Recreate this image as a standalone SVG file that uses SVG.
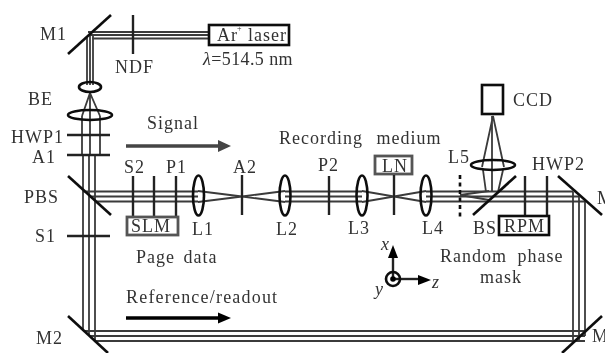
<svg xmlns="http://www.w3.org/2000/svg" width="605" height="353" viewBox="0 0 605 353">
<defs>
<style>
text{font-family:"Liberation Serif","Times New Roman",serif;font-size:18px;fill:#333;letter-spacing:1px}
.b{fill:none;stroke:#3a3a3a;stroke-width:1.800}
.e{fill:none;stroke:#111;stroke-width:2.600}
.o{fill:none;stroke:#222;stroke-width:2.400}
.x{fill:none;stroke:#555;stroke-width:2.800}
.f{fill:none;stroke:#111;stroke-width:2.600}
</style>
<filter id="s" x="-5%" y="-5%" width="110%" height="110%"><feGaussianBlur stdDeviation="0.45"/></filter>
</defs>
<rect width="605" height="353" fill="#fff"/>
<g filter="url(#s)">
<g id="connectors">
<path class="b" d="M88 32H208M90 35H208M92 38.500H208M87 36V85M90 36V85M93 36V85"/>
<path class="b" d="M82 116L90 93L100 116M90 93V155"/>
<path class="b" d="M82 116V155M100 116V155"/>
<path class="b" d="M83 155V331M89 155V336M95 155V341"/>
<path class="b" d="M83 191.500H198M89 196.500H198M95 201.500H198"/>
<path class="b" d="M285 191.500H362M285 196.500H362M285 201.500H362"/>
<path class="b" d="M426 191.500H573M426 196.500H579M426 201.500H585"/>
<path class="b" d="M83 331H585M89 336H585M95 341H585"/>
<path class="b" d="M573 191.500V340M579 196.500V340M585 201.500V336"/>
<path class="b" d="M198 191L242 196.500L285 191M198 202L242 196.500L285 202"/>
<path class="b" d="M362 191L394 196.500L426 191M362 202L394 196.500L426 202"/>
<path class="b" d="M460 195L489 191M460 195L489 200"/>
<path class="b" d="M482 167L493 116L504 167M483 170L486 192M492 116V192M503 170L498 192"/>
<g fill="#444"><path d="M126 146H219" stroke="#444" stroke-width="3.600"/><path d="M218 140L231 146L218 152Z"/></g>
<g fill="#000"><path d="M126 318H219" stroke="#000" stroke-width="3.600"/><path d="M218 312.500L231 318L218 323.500Z"/></g>
</g>
<g id="M1"><path class="f" d="M68 54L111 15"/><text x="40" y="40">M1</text></g>
<g id="NDF"><path class="o" d="M133 15V54"/><text x="115" y="73">NDF</text></g>
<g id="laser"><rect x="209" y="25" width="80" height="20" class="f"/><text x="217" y="41">Ar</text><text x="237" y="31" style="font-size:8px">+</text><text x="248" y="41">laser</text><text x="203" y="65" style="letter-spacing:.4px"><tspan font-style="italic">λ</tspan>=514.5 nm</text></g>
<g id="BE"><ellipse class="e" cx="90" cy="87" rx="11" ry="5"/><ellipse class="e" cx="90" cy="115" rx="22" ry="5"/><text x="28" y="105">BE</text></g>
<g id="HWP1"><path class="o" d="M67 135H110"/><text x="11" y="143">HWP1</text></g>
<g id="A1"><path class="o" d="M67 155H110"/><text x="32" y="163">A1</text></g>
<g id="PBS"><path class="f" d="M68 176L111 215"/><text x="24" y="203">PBS</text></g>
<g id="S1"><path class="o" d="M67 236H110"/><text x="35" y="242">S1</text></g>
<g id="M2"><path class="f" d="M68 316L108 353"/><text x="36" y="344">M2</text></g>
<g id="SLM"><path class="o" d="M133 176V217M154 176V217M176 176V217"/><rect x="127" y="217" width="51" height="18" class="x"/><text x="131" y="232">SLM</text><text x="124" y="173">S2</text><text x="166" y="173">P1</text></g>
<g id="L1"><ellipse class="e" cx="198.500" cy="195.500" rx="5.500" ry="20"/><text x="192" y="235">L1</text></g>
<g id="A2"><path class="o" d="M242 175V215"/><text x="233" y="173">A2</text></g>
<g id="L2"><ellipse class="e" cx="285" cy="195.500" rx="5.500" ry="20"/><text x="276" y="235">L2</text></g>
<g id="P2"><path class="o" d="M329 176V215"/><text x="318" y="171">P2</text></g>
<g id="L3"><ellipse class="e" cx="362" cy="195.500" rx="5.500" ry="20"/><text x="348" y="234">L3</text></g>
<g id="LN"><rect x="375" y="156" width="37" height="18" class="x"/><text x="382" y="172">LN</text><path class="o" d="M394 175V215"/></g>
<g id="L4"><ellipse class="e" cx="426" cy="195.500" rx="5.500" ry="20"/><text x="422" y="234">L4</text></g>
<g id="aperture"><path class="f" d="M460 175V217" stroke-dasharray="4 3.500"/></g>
<g id="BS"><path class="f" d="M473 215L516 176"/><text x="473" y="234">BS</text></g>
<g id="L5"><ellipse class="e" cx="493" cy="165" rx="22" ry="5"/><text x="448" y="163">L5</text></g>
<g id="CCD"><rect x="482" y="85" width="21" height="29" class="f"/><text x="513" y="106">CCD</text></g>
<g id="HWP2"><path class="o" d="M525 176V216M547 176V216"/><text x="532" y="170">HWP2</text></g>
<g id="RPM"><rect x="499" y="216" width="50" height="19" class="f"/><text x="504" y="232">RPM</text></g>
<g id="M3"><path class="f" d="M558 176L602 215"/><text x="597" y="204">M</text></g>
<g id="M4"><path class="f" d="M562 353L602 316"/><text x="592" y="342">M</text></g>
<g id="axes"><path d="M393 279V250" class="o"/><path d="M393 245L398 258H388Z" fill="#000"/><path d="M393 279H422" class="o"/><path d="M431 280L418 285V275Z" fill="#000"/><circle cx="393" cy="279" r="7" class="f"/><circle cx="393" cy="279" r="2.800" fill="#000"/>
<text x="381" y="250" font-style="italic">x</text><text x="432" y="288" font-style="italic">z</text><text x="375" y="295" font-style="italic">y</text></g>
<text x="147" y="129">Signal</text>
<text x="279" y="144" style="word-spacing:8px">Recording medium</text>
<text x="136" y="263" style="word-spacing:3px">Page data</text>
<text x="126" y="303" style="letter-spacing:1.200px">Reference/readout</text>
<text x="440" y="262" style="word-spacing:5px">Random phase</text>
<text x="480" y="283">mask</text>
</g>
</svg>
